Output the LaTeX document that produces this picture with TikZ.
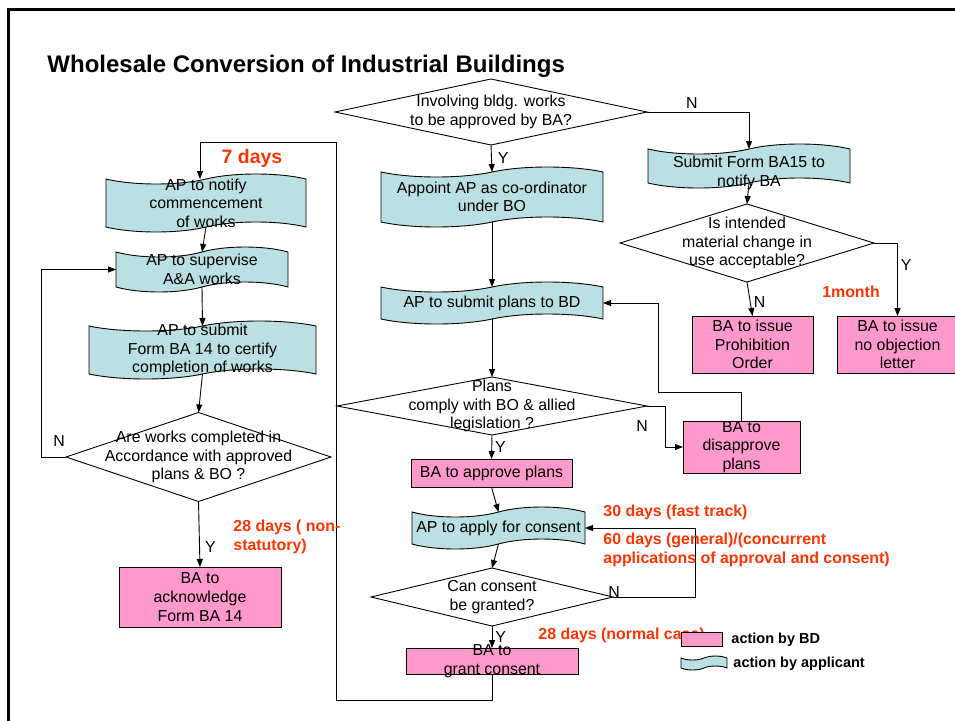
\documentclass[tikz,border=0pt]{standalone}
\usepackage{fontspec}
\setmainfont{Liberation Sans}
\usepackage{xcolor}
\usetikzlibrary{shapes.geometric,shapes.symbols,arrows.meta}

\definecolor{tapeblue}{HTML}{BBE0E3}
\definecolor{bdpink}{HTML}{FF99CC}
\definecolor{dayred}{HTML}{FF3300}

\tikzset{
  applicant/.style={shape=tape, draw, fill=tapeblue, tape bend height=10pt,
                    inner sep=0pt, outer sep=0pt},
  bdbox/.style={rectangle, draw, fill=bdpink, inner sep=0pt, outer sep=0pt},
  decision/.style={diamond, draw, inner sep=0pt, outer sep=0pt},
  txt/.style={align=center, inner sep=0pt},
  days/.style={font=\fontsize{15.9}{19}\selectfont\bfseries, text=dayred,
               align=left, inner sep=0pt, anchor=west},
  yn/.style={inner sep=0pt},
  flow/.style={-{Triangle[length=8pt,width=6pt]}}
}

\begin{document}
\begin{tikzpicture}[x=1pt, y=-1pt, line width=0.9pt,
                    font=\fontsize{15.9}{18.6}\selectfont]
  \useasboundingbox (0,0) rectangle (955,720);
  \draw[line width=2.5pt] (8.7,721) -- (8.7,9.5) -- (956,9.5);

  \node[anchor=base west, inner sep=0pt,
        font=\fontsize{24}{28}\selectfont\bfseries] (title) at (47,72)
    {Wholesale Conversion of Industrial Buildings};

  % middle column
  \node[decision, minimum width=312, minimum height=66,
        label={[txt]center:{Involving bldg. works\\to be approved by BA?}}] (q1) at (491,112) {};
  \node[applicant, minimum width=222, minimum height=60,
        label={[txt]center:{Appoint AP as co-ordinator\\under BO}}] (appoint) at (492,197) {};
  \node[applicant, minimum width=222, minimum height=42,
        label={[txt]center:{AP to submit plans to BD}}] (plans) at (492,303) {};
  \node[decision, minimum width=310, minimum height=58,
        label={[txt]center:{Plans\\comply with BO \& allied\\legislation ?}}] (q3) at (492,406) {};
  \node[bdbox, minimum width=161, minimum height=28,
        label={[txt]center:{BA to approve plans}}] (approve) at (491.5,473) {};
  \node[applicant, minimum width=173, minimum height=42,
        label={[txt]center:{AP to apply for consent}}] (consent) at (498.5,528) {};
  \node[decision, minimum width=242, minimum height=58,
        label={[txt]center:{Can consent\\be granted?}}] (q4) at (492,597) {};
  \node[bdbox, minimum width=172, minimum height=26,
        label={[txt]center:{BA to\\grant consent}}] (grant) at (492,661) {};

  % right column
  \node[applicant, minimum width=202, minimum height=44,
        label={[txt, yshift=-7pt]center:{Submit Form BA15 to\\notify BA}}] (formBA15) at (749,166) {};
  \node[decision, minimum width=254, minimum height=78,
        label={[txt]center:{Is intended\\material change in\\use acceptable?}}] (q2) at (747,243) {};
  \node[bdbox, minimum width=121, minimum height=57,
        label={[txt]center:{BA to issue\\Prohibition\\Order}}] (prohib) at (752.5,344.5) {};
  \node[bdbox, minimum width=121, minimum height=57,
        label={[txt]center:{BA to issue\\no objection\\letter}}] (noobj) at (897.5,344.5) {};
  \node[bdbox, minimum width=117, minimum height=52,
        label={[txt]center:{BA to\\disapprove\\plans}}] (disappr) at (741.5,447) {};

  % left column
  \node[applicant, minimum width=200, minimum height=58,
        label={[txt]center:{AP to notify\\commencement\\of works}}] (notify) at (206,203) {};
  \node[applicant, minimum width=172, minimum height=45,
        label={[txt]center:{AP to supervise\\A\&A works}}] (supervise) at (202,269.5) {};
  \node[applicant, minimum width=227, minimum height=58,
        label={[txt]center:{AP to submit\\Form BA 14 to certify\\completion of  works}}] (formBA14) at (202.5,350) {};
  \node[decision, minimum width=265, minimum height=89,
        label={[txt]center:{Are works completed in\\Accordance with approved\\plans \& BO ?}}] (q5) at (198.5,457) {};
  \node[bdbox, minimum width=162, minimum height=60,
        label={[txt]center:{BA to\\acknowledge\\Form BA 14}}] (ack) at (200,597) {};

  % connectors
  \draw[flow] (q1.east) -| node[yn, pos=0.22, above=3pt] {N} (formBA15.north);
  \draw[flow] (q1.south) -- node[yn, right=6pt] {Y} (appoint.north);
  \draw[flow] (appoint.south) -- (plans.north);
  \draw[flow] (plans.south) -- (q3.north);
  \draw[flow] (q3.east) -- ++(18,0) |- (disappr.west);
  \node[yn] (nq3) at (642,426) {N};
  \draw[flow] (disappr.north) |- (658,392) |- (plans.east);
  \draw[flow] (q3.south) -- node[yn, right=3pt] {Y} (approve.north);
  \draw[flow] (approve.south) -- (consent.north);
  \draw[flow] (consent.south) -- (q4.north);
  \draw[flow] (q4.east) -- ++(82,0) |- (consent.east);
  \node[yn] (nq4) at (614,592) {N};
  \draw[flow] (q4.south) -- node[yn, right=3pt] {Y} (grant.north);
  \coordinate (loopc) at (200,142);
  \draw[flow] (grant.south) |- (336,700) |- (loopc) -- (loopc |- notify.north);

  \draw[flow] (formBA15.south) -- (q2.north);
  \draw[flow] (q2.south) -- node[yn, pos=0.6, right=3pt] {N} (prohib.north);
  \draw[flow] (q2.east) -| node[yn, pos=0.65, right=3pt] {Y} (noobj.north);

  \draw[flow] (notify.south) -- (supervise.north);
  \draw[flow] (supervise.south) -- (formBA14.north);
  \draw[flow] (formBA14.south) -- (q5.north);
  \draw[flow] (q5.west) -- ++(-25,0) |- (supervise.west);
  \node[yn] (nq5) at (59,441) {N};
  \draw[flow] (q5.south) -- node[yn, pos=0.7, right=5pt] {Y} (ack.north);

  % times
  \node[days, anchor=center, font=\fontsize{19.5}{22}\selectfont\bfseries] (d7) at (252,158) {7 days};
  \node[days, anchor=center] (d1m) at (851,292) {1month};
  \node[days] (d28a) at (233,537) {28 days ( non-\\statutory)};
  \node[days] (d30) at (603,512) {30 days (fast track)};
  \node[days] (d60) at (603,550) {60 days (general)/(concurrent\\applications of approval and consent)};
  \node[days] (d28b) at (538,635) {28 days (normal case)};

  % legend
  \node[bdbox, minimum width=41, minimum height=14] (legBD) at (701.5,639) {};
  \node[applicant, tape bend height=4pt, minimum width=46, minimum height=14] (legAP) at (704,663) {};
  \node[anchor=west, inner sep=0pt, font=\fontsize{14.5}{17}\selectfont\bfseries] (txtBD) at (731,640) {action by BD};
  \node[anchor=west, inner sep=0pt, font=\fontsize{14.5}{17}\selectfont\bfseries] (txtAP) at (733,664) {action by applicant};
\end{tikzpicture}
\end{document}
